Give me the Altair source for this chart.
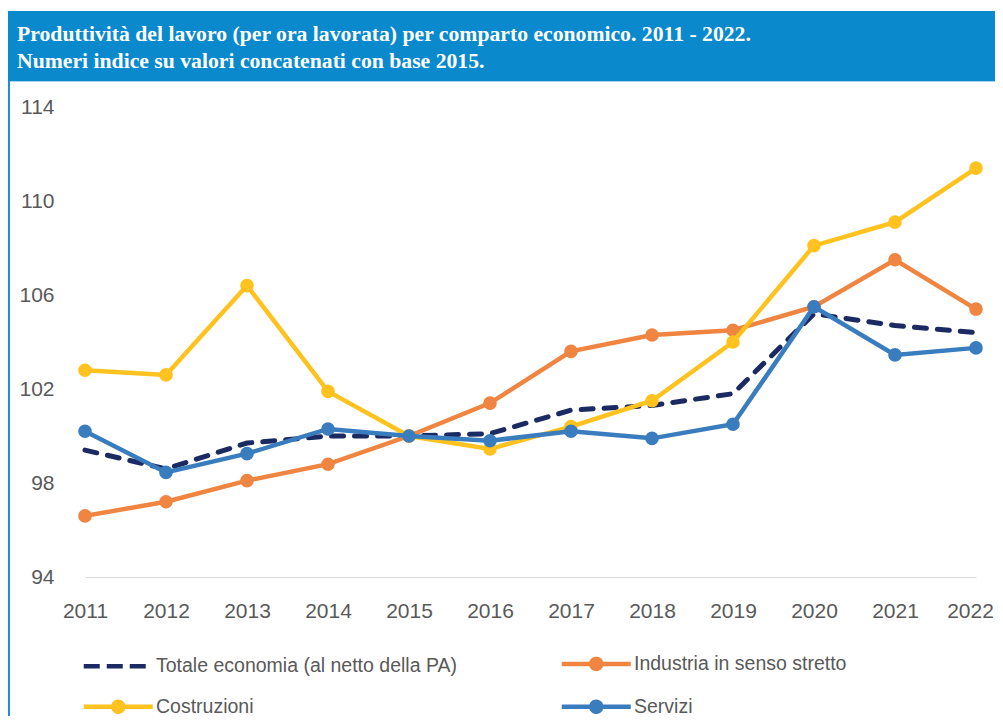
import altair as alt
import pandas as pd

years = [2011, 2012, 2013, 2014, 2015, 2016, 2017, 2018, 2019, 2020, 2021, 2022]
series_names = [
    "Totale economia (al netto della PA)",
    "Industria in senso stretto",
    "Costruzioni",
    "Servizi",
]
totale = [99.4, 98.6, 99.7, 100.0, 100.0, 100.1, 101.1, 101.3, 101.8, 105.2, 104.7, 104.4]
industria = [96.6, 97.2, 98.1, 98.8, 100.0, 101.4, 103.6, 104.3, 104.5, 105.5, 107.5, 105.4]
costruzioni = [102.8, 102.6, 106.4, 101.9, 100.0, 99.45, 100.4, 101.5, 104.0, 108.1, 109.1, 111.4]
servizi = [100.2, 98.45, 99.25, 100.3, 100.0, 99.8, 100.2, 99.9, 100.5, 105.5, 103.45, 103.75]
y_ticks = [94, 98, 102, 106, 110, 114]
title_lines = [
    "Produttività del lavoro (per ora lavorata) per comparto economico. 2011 - 2022.",
    "Numeri indice su valori concatenati con base 2015.",
]

colors = ["#1B2A62", "#EF8540", "#FFC21E", "#3A7DBF"]
values_by_series = [totale, industria, costruzioni, servizi]

rows = []
for name, vals in zip(series_names, values_by_series):
    for yr, v in zip(years, vals):
        rows.append({"anno": yr, "valore": v, "serie": name})
df = pd.DataFrame(rows)

GRAY = "#595959"
SANS = "Liberation Sans"

dash_name = series_names[0]
legend = alt.Legend(
    orient="none",
    legendX=23.5,
    legendY=547,
    columns=2,
    direction="horizontal",
    title=None,
    labelFont=SANS,
    labelFontSize=19.5,
    labelColor=GRAY,
    labelLimit=500,
    labelOffset=28,
    columnPadding=95,
    rowPadding=14,
    symbolSize=100,
    symbolStrokeWidth=4.5,
    symbolOpacity=1,
    padding=0,
    symbolType={
        "expr": f"datum.value === '{dash_name}' ? 'M-6.9,0L5.5,0' : 'M-6.9,0L6.9,0M1,0A1,1,0,1,1,-1,0A1,1,0,1,1,1,0Z'"
    },
    symbolDash={"expr": f"datum.value === '{dash_name}' ? [16, 7] : [1, 0]"},
    symbolStrokeColor={"expr": "scale('color', datum.value)"},
    symbolFillColor={"expr": "scale('color', datum.value)"},
)

color_enc = alt.Color(
    "serie:N",
    scale=alt.Scale(domain=series_names, range=colors),
    legend=legend,
)
x_enc = alt.X(
    "anno:Q",
    scale=alt.Scale(domain=[2011, 2022], nice=False, zero=False),
    axis=alt.Axis(
        values=years,
        format="d",
        title=None,
        labelFont=SANS,
        labelFontSize=21,
        labelColor=GRAY,
        labelPadding=23,
        labelOffset={"expr": "datum.value === 2022 ? -6 : 0"},
        domainColor="#D9D9D9",
        domainWidth=1.2,
        ticks=False,
        grid=False,
        labelFlush=False,
    ),
)
y_enc = alt.Y(
    "valore:Q",
    scale=alt.Scale(domain=[94, 114], nice=False, zero=False),
    axis=alt.Axis(
        values=y_ticks,
        title=None,
        labelFont=SANS,
        labelFontSize=21,
        labelColor=GRAY,
        labelPadding=31,
        domain=False,
        ticks=False,
        grid=False,
    ),
)

base = alt.Chart(df)
layers = []

# decorations: header band, frame lines
deco = alt.Chart(pd.DataFrame({"k": [0]}))
layers.append(
    deco.mark_rect(color="#0A89CD").encode(
        x=alt.value(-77), x2=alt.value(910), y=alt.value(-96), y2=alt.value(-26)
    )
)
layers.append(
    deco.mark_rule(color="#A9D4EF", strokeWidth=1).encode(
        x=alt.value(-77), x2=alt.value(910), y=alt.value(-25.5)
    )
)
layers.append(
    deco.mark_rule(color="#1E8FD8", strokeWidth=2).encode(
        x=alt.value(-76), y=alt.value(-26), y2=alt.value(620)
    )
)

title_df = pd.DataFrame({"t": title_lines, "i": [0, 1]})
for i, yy in enumerate([-66, -39]):
    layers.append(
        alt.Chart(title_df)
        .transform_filter(alt.datum.i == i)
        .mark_text(
            align="left",
            baseline="alphabetic",
            font="Liberation Serif",
            fontWeight="bold",
            fontSize=21.7,
            color="white",
        )
        .encode(x=alt.value(-68), y=alt.value(yy), text="t:N")
    )

for idx, name in enumerate(series_names):
    sub = base.transform_filter(alt.datum.serie == name)
    if idx == 0:
        layers.append(
            sub.mark_line(strokeWidth=5, strokeDash=[12, 11], strokeCap="round").encode(
                x=x_enc, y=y_enc, color=color_enc
            )
        )
    else:
        layers.append(
            sub.mark_line(strokeWidth=4.5, strokeCap="round").encode(
                x=x_enc, y=y_enc, color=color_enc
            )
        )
        layers.append(
            sub.mark_point(filled=True, shape="circle", size=185, opacity=1).encode(
                x=x_enc, y=y_enc, color=color_enc
            )
        )

chart = (
    alt.layer(*layers)
    .properties(
        width=891,
        height=470,
        padding={"left": 77, "top": 99, "right": 19, "bottom": 139},
        autosize=alt.AutoSizeParams(type="none"),
        background="white",
    )
    .configure_view(strokeWidth=0)
)

chart.save("out.html", embed_options={"renderer": "svg", "actions": False})
